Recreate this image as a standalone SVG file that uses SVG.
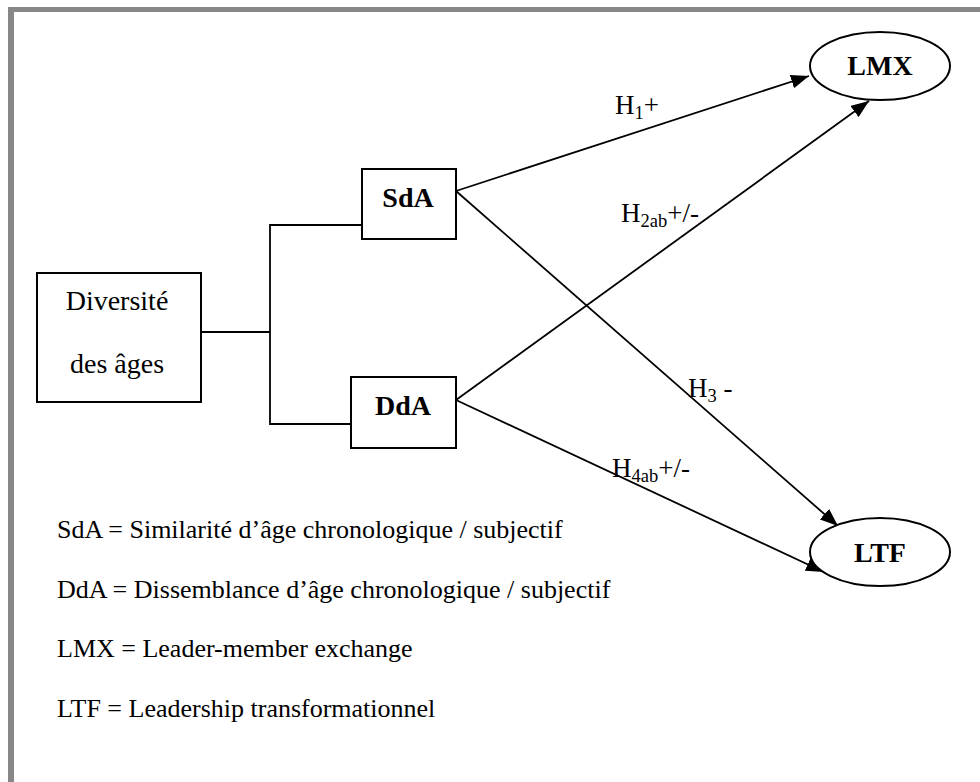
<svg xmlns="http://www.w3.org/2000/svg" width="980" height="782" viewBox="0 0 980 782">
<defs>
<style>
.t{font-family:"Liberation Serif","Times New Roman",serif;font-size:27px;fill:#000}
.b{font-weight:bold;font-size:28px}
.d{font-size:28px}
.lg{font-size:26px}
.s{font-size:18.5px}
.box{fill:#fff;stroke:#000;stroke-width:2}
.ln{fill:none;stroke:#000;stroke-width:1.8}
</style>
<marker id="ah" markerUnits="userSpaceOnUse" markerWidth="19" markerHeight="14" refX="18" refY="7" orient="auto">
<path d="M0,0 L18,7 L0,14 z" fill="#000"/>
</marker>
</defs>
<rect x="0" y="0" width="980" height="782" fill="#fff"/>
<rect x="8" y="7" width="972" height="5" fill="#888"/>
<rect x="8" y="7" width="6" height="775" fill="#888"/>

<g id="connectors">
<polyline class="ln" points="201,332 270,332"/>
<polyline class="ln" points="362,225 270,225 270,424 351,424"/>
<line class="ln" x1="456" y1="191" x2="809" y2="76" marker-end="url(#ah)"/>
<line class="ln" x1="456" y1="191" x2="838" y2="526" marker-end="url(#ah)"/>
<line class="ln" x1="456" y1="400" x2="869" y2="101" marker-end="url(#ah)"/>
<line class="ln" x1="456" y1="400" x2="824" y2="572" marker-end="url(#ah)"/>
</g>

<g id="diversite">
<rect class="box" x="37" y="273" width="164" height="129"/>
<text class="t d" x="117" y="310" text-anchor="middle">Diversité</text>
<text class="t d" x="117" y="373" text-anchor="middle">des âges</text>
</g>
<g id="sda">
<rect class="box" x="362" y="169" width="94" height="70"/>
<text class="t b" x="408" y="207" text-anchor="middle">SdA</text>
</g>
<g id="dda">
<rect class="box" x="351" y="377" width="105" height="71"/>
<text class="t b" x="403" y="415" text-anchor="middle">DdA</text>
</g>
<g id="lmx">
<ellipse class="box" cx="880" cy="66" rx="70" ry="34"/>
<text class="t b" x="880" y="75" text-anchor="middle">LMX</text>
</g>
<g id="ltf">
<ellipse class="box" cx="880" cy="552" rx="70" ry="34"/>
<text class="t b" x="880" y="562" text-anchor="middle">LTF</text>
</g>

<g id="labels">
<text class="t" x="615" y="114">H<tspan class="s" dy="5">1</tspan><tspan dy="-5">+</tspan></text>
<text class="t" x="621" y="222">H<tspan class="s" dy="5">2ab</tspan><tspan dy="-5">+/-</tspan></text>
<text class="t" x="688" y="397">H<tspan class="s" dy="5">3</tspan><tspan dy="-5"> -</tspan></text>
<text class="t" x="612" y="477">H<tspan class="s" dy="5">4ab</tspan><tspan dy="-5">+/-</tspan></text>
</g>

<g id="legend">
<text class="t lg" x="57" y="538">SdA = Similarité d’âge chronologique / subjectif</text>
<text class="t lg" x="57" y="598">DdA = Dissemblance d’âge chronologique / subjectif</text>
<text class="t lg" x="57" y="657">LMX = Leader-member exchange</text>
<text class="t lg" x="57" y="717">LTF = Leadership transformationnel</text>
</g>
</svg>
